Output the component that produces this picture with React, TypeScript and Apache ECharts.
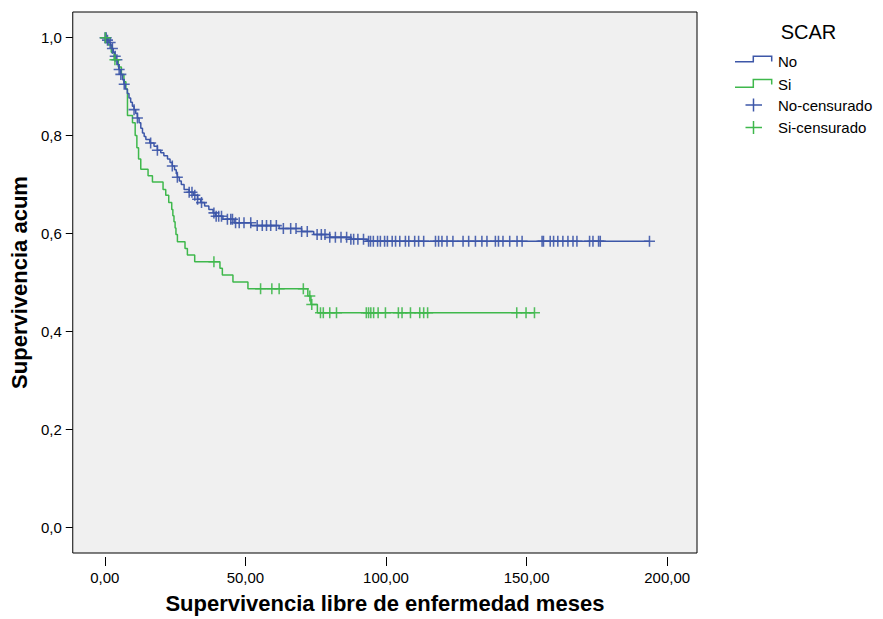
import React, { useEffect, useRef } from "react";
import * as echarts from "echarts";

// ---- Data ----
const noTimes = [0, 0.8, 1.5, 2.0, 2.6, 3.0, 3.5, 4.0, 4.5, 5.0, 5.6, 6.3, 6.8, 7.3, 8.0, 8.6, 9.2, 9.8, 10.4, 11.0, 11.6, 12.2, 12.8, 13.4, 14.0, 14.6, 16.0, 17.5, 18.7, 19.9, 21.0, 22.3, 23.2, 24.0, 24.8, 25.4, 25.8, 26.5, 27.2, 28.2, 30.0, 31.5, 33.0, 34.1, 35.5, 37.0, 38.5, 39.4, 42.0, 46.0, 52.0, 62.0, 70.0, 74.3, 80.0, 87.4, 93.3];
const noSurv = [1.0, 0.995, 0.99, 0.985, 0.978, 0.97, 0.962, 0.955, 0.945, 0.935, 0.925, 0.914, 0.905, 0.895, 0.886, 0.877, 0.868, 0.86, 0.853, 0.845, 0.836, 0.826, 0.815, 0.805, 0.798, 0.792, 0.785, 0.778, 0.77, 0.765, 0.759, 0.752, 0.745, 0.738, 0.73, 0.722, 0.715, 0.707, 0.7, 0.69, 0.684, 0.678, 0.67, 0.663, 0.656, 0.649, 0.642, 0.635, 0.629, 0.622, 0.616, 0.61, 0.604, 0.598, 0.592, 0.588, 0.584];
const noEnd = 193.7;
const noCensored = [0.1, 0.5, 0.95, 1.9, 2.7, 3.7, 4.3, 5.1, 5.7, 6.9, 10.4, 11.6, 16.3, 18.7, 24.0, 25.8, 30.0, 31.0, 32.0, 33.0, 34.4, 38.8, 39.6, 40.5, 41.5, 43.6, 44.8, 45.4, 46.5, 47.8, 49.5, 51.9, 54.2, 56.0, 57.5, 59.0, 61.0, 63.5, 66.1, 68.0, 70.0, 72.0, 75.5, 77.0, 78.3, 80.0, 82.0, 84.0, 86.0, 87.5, 88.5, 90.0, 92.0, 93.8, 94.5, 95.5, 97.0, 98.0, 99.5, 100.5, 102.2, 103.4, 104.9, 106.9, 108.1, 110.2, 111.6, 113.4, 117.6, 118.7, 119.9, 121.7, 123.8, 127.4, 129.4, 131.8, 134.1, 135.9, 138.9, 140.0, 141.6, 144.0, 146.6, 148.4, 155.5, 156.0, 158.4, 159.6, 161.1, 162.9, 164.7, 166.5, 167.9, 172.4, 173.6, 175.6, 176.2, 193.7];

const siTimes = [0, 1.2, 2.3, 3.3, 4.8, 5.9, 6.8, 7.5, 8.06, 9.84, 10.8, 11.4, 12.0, 12.79, 15.38, 16.94, 20.71, 21.67, 22.73, 23.8, 24.2, 24.6, 25.0, 25.3, 25.82, 28.52, 29.37, 31.97, 40.95, 41.8, 45.57, 50.9, 72.2, 73.3, 75.6];
const siSurv = [1.0, 0.985, 0.97, 0.955, 0.94, 0.925, 0.91, 0.895, 0.841, 0.826, 0.8, 0.775, 0.752, 0.731, 0.718, 0.705, 0.69, 0.678, 0.663, 0.649, 0.636, 0.624, 0.611, 0.598, 0.583, 0.569, 0.556, 0.542, 0.529, 0.515, 0.501, 0.487, 0.472, 0.455, 0.438];
const siEnd = 152.8;
const siCensored = [0.2, 3.6, 38.8, 55.4, 59.4, 62.0, 70.6, 72.9, 73.6, 76.7, 77.7, 80.0, 82.4, 93.0, 93.8, 94.6, 95.6, 97.2, 99.8, 104.4, 105.7, 108.7, 112.0, 113.4, 114.8, 146.5, 149.8, 152.8];

const xTicks = [0, 50, 100, 150, 200];
const yTicks = [0, 0.2, 0.4, 0.6, 0.8, 1.0];

const seriesNames = ["No", "Si"];
const legendTitle = "SCAR";

const BLUE = "#3d57a8";
const GREEN = "#3fb84c";
const FONT = "'Liberation Sans', Arial, sans-serif";
const PLUS = "path://M-0.7,-5H0.7V-0.7H5V0.7H0.7V5H-0.7V0.7H-5V-0.7H-0.7Z";

function stepData(times: number[], surv: number[], end: number) {
  const d = times.map((t, i) => [t, surv[i]]);
  d.push([end, surv[surv.length - 1]]);
  return d;
}
function survAt(times: number[], surv: number[], t: number) {
  let s = surv[0];
  for (let i = 0; i < times.length; i++) if (times[i] <= t) s = surv[i];
  return s;
}
function censData(times: number[], surv: number[], cens: number[]) {
  return cens.map((t) => [t, survAt(times, surv, t)]);
}

export default function App() {
  const ref = useRef<HTMLDivElement>(null);
  useEffect(() => {
    if (!ref.current) return;
    const chart = echarts.init(ref.current, undefined, { renderer: "svg" });
    const option: any = {
      animation: false,
      backgroundColor: "#ffffff",
      textStyle: { fontFamily: FONT },
      grid: {
        left: 72, top: 12, right: 186, bottom: 66,
        show: true, backgroundColor: "#f0f0f0", borderColor: "#000", borderWidth: 1,
      },
      xAxis: {
        type: "value", min: -11.4, max: 210.6, offset: 4,
        axisLine: { show: false, onZero: false }, splitLine: { show: false },
        axisTick: { show: true, length: 9, customValues: xTicks, lineStyle: { color: "#000", width: 1 } },
        axisLabel: {
          customValues: xTicks, margin: 13, fontSize: 15, color: "#000", fontFamily: FONT,
          formatter: (v: number) => v.toFixed(2).replace(".", ","),
        },
        name: "Supervivencia libre de enfermedad meses", nameLocation: "middle", nameGap: 35,
        nameTextStyle: { fontSize: 22, fontWeight: "bold", color: "#000", fontFamily: FONT },
      },
      yAxis: {
        type: "value", min: -0.053, max: 1.0525,
        axisLine: { show: false, onZero: false }, splitLine: { show: false },
        axisTick: { show: true, length: 7, customValues: yTicks, lineStyle: { color: "#000", width: 1 } },
        axisLabel: {
          customValues: yTicks, margin: 11, fontSize: 15, color: "#000", fontFamily: FONT,
          formatter: (v: number) => v.toFixed(1).replace(".", ","),
        },
        name: "Supervivencia acum", nameLocation: "middle", nameGap: 40,
        nameTextStyle: { fontSize: 22, fontWeight: "bold", color: "#000", fontFamily: FONT },
      },
      series: [
        {
          name: seriesNames[1], type: "line", step: "end", showSymbol: false,
          data: stepData(siTimes, siSurv, siEnd), lineStyle: { color: GREEN, width: 1.5 }, z: 2,
        },
        {
          name: seriesNames[0], type: "line", step: "end", showSymbol: false,
          data: stepData(noTimes, noSurv, noEnd), lineStyle: { color: BLUE, width: 1.5 }, z: 3,
        },
        {
          name: seriesNames[0] + "-censurado", type: "scatter", symbol: PLUS, symbolSize: 11,
          data: censData(noTimes, noSurv, noCensored), itemStyle: { color: BLUE, opacity: 0.9 }, z: 4,
        },
        {
          name: seriesNames[1] + "-censurado", type: "scatter", symbol: PLUS, symbolSize: 11,
          data: censData(siTimes, siSurv, siCensored), itemStyle: { color: GREEN, opacity: 0.9 }, z: 5,
        },
      ],
      graphic: [
        { type: "text", x: 808.5, y: 32, style: { text: legendTitle, fontSize: 20, fill: "#000", align: "center", verticalAlign: "middle", fontFamily: FONT } },
        { type: "polyline", shape: { points: [[735, 61.7], [753.3, 61.7], [753.3, 56.3], [771.7, 56.3], [771.7, 61.5]] }, style: { stroke: BLUE, lineWidth: 1.5, fill: "none" } },
        { type: "text", x: 778, y: 61.5, style: { text: seriesNames[0], fontSize: 15, fill: "#000", verticalAlign: "middle", fontFamily: FONT } },
        { type: "polyline", shape: { points: [[735, 87.3], [753.3, 87.3], [753.3, 79.5], [771.7, 79.5], [771.7, 84.5]] }, style: { stroke: GREEN, lineWidth: 1.5, fill: "none" } },
        { type: "text", x: 778, y: 84.5, style: { text: seriesNames[1], fontSize: 15, fill: "#000", verticalAlign: "middle", fontFamily: FONT } },
        { type: "line", shape: { x1: 745.5, y1: 105, x2: 762, y2: 105 }, style: { stroke: BLUE, lineWidth: 1.5 } },
        { type: "line", shape: { x1: 753.5, y1: 98.5, x2: 753.5, y2: 111.5 }, style: { stroke: BLUE, lineWidth: 1.5 } },
        { type: "text", x: 778, y: 105, style: { text: seriesNames[0] + "-censurado", fontSize: 15, fill: "#000", verticalAlign: "middle", fontFamily: FONT } },
        { type: "line", shape: { x1: 745.5, y1: 127.5, x2: 762, y2: 127.5 }, style: { stroke: GREEN, lineWidth: 1.5 } },
        { type: "line", shape: { x1: 753.5, y1: 121, x2: 753.5, y2: 134 }, style: { stroke: GREEN, lineWidth: 1.5 } },
        { type: "text", x: 778, y: 127.5, style: { text: seriesNames[1] + "-censurado", fontSize: 15, fill: "#000", verticalAlign: "middle", fontFamily: FONT } },
      ],
    };
    chart.setOption(option);
    return () => chart.dispose();
  }, []);
  return <div ref={ref} style={{ position: "absolute", left: 0, top: 0, width: 883, height: 619 }} />;
}
